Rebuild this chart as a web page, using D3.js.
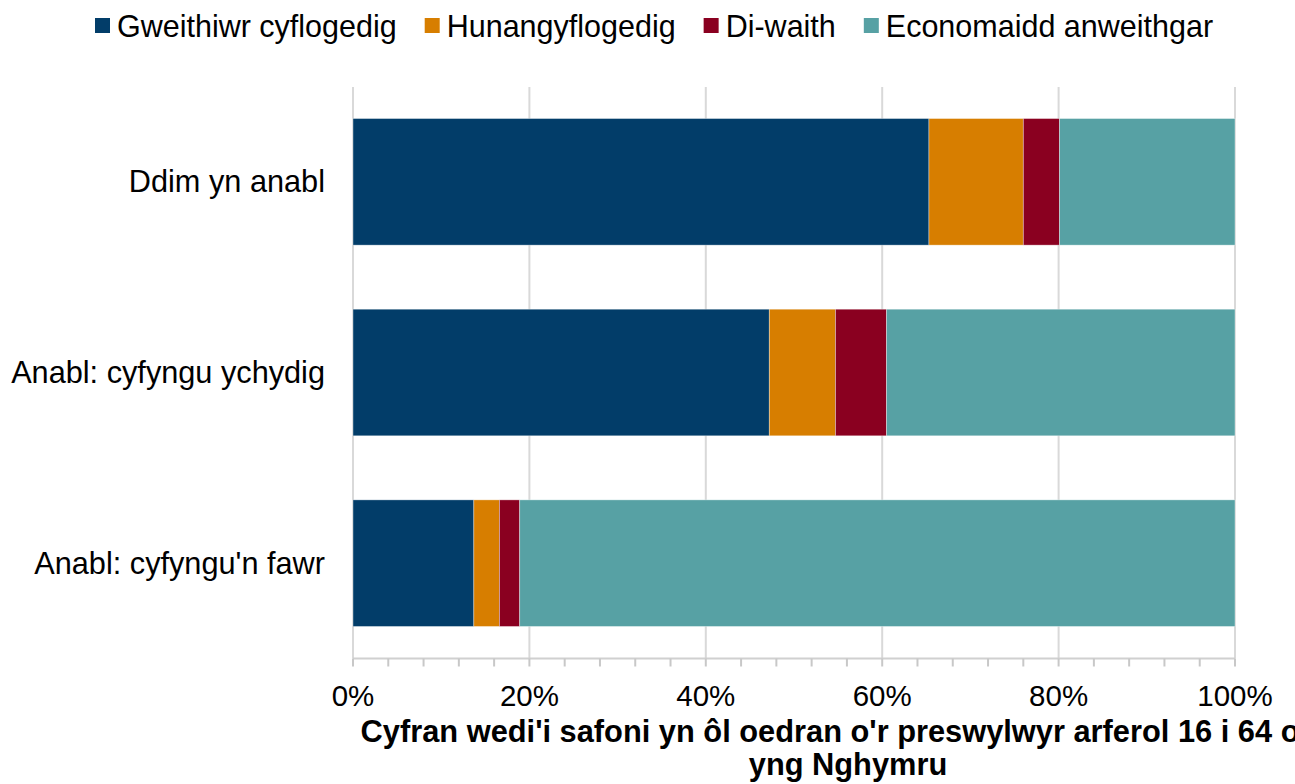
<!DOCTYPE html>
<html><head><meta charset="utf-8">
<script src="https://cdn.jsdelivr.net/npm/d3@7"></script>
<style>
body{margin:0;background:#fff;}
text{font-family:"Liberation Sans",Arial,sans-serif;fill:#000;}
</style></head>
<body>
<svg id="chart" width="1295" height="784"></svg>
<script>
const categories = ["Ddim yn anabl", "Anabl: cyfyngu ychydig", "Anabl: cyfyngu'n fawr"];
const seriesNames = ["Gweithiwr cyflogedig", "Hunangyflogedig", "Di-waith", "Economaidd anweithgar"];
const employee = [65.3, 47.2, 13.7];
const selfEmployed = [10.7, 7.5, 2.9];
const unemployed = [4.1, 5.8, 2.3];
const inactive = [19.9, 39.5, 81.1];
const tickValues = [0, 20, 40, 60, 80, 100];
const tickLabels = ["0%", "20%", "40%", "60%", "80%", "100%"];
const minorTicks = d3.range(0, 101, 4);
const colors = ["#023d69", "#d77e00", "#8a0020", "#57a1a4"];
const titleLines = ["Cyfran wedi'i safoni yn ôl oedran o'r preswylwyr arferol 16 i 64 oed", "yng Nghymru"];

const seriesValues = [employee, selfEmployed, unemployed, inactive];
const rows = categories.map((c, i) => {
  const r = {category: c};
  seriesNames.forEach((s, j) => r[s] = seriesValues[j][i]);
  return r;
});
const stacked = d3.stack().keys(seriesNames)(rows);

const svg = d3.select("#chart");
const x = d3.scaleLinear().domain([0, 100]).range([353, 1235]);
const y = d3.scaleBand().domain(categories).range([86.5, 658.5]).paddingInner(0.336).paddingOuter(0.168);

// gridlines
svg.append("g").selectAll("line").data(tickValues).join("line")
  .attr("x1", d => x(d)).attr("x2", d => x(d))
  .attr("y1", 87).attr("y2", 658.5)
  .attr("stroke", "#d9d9d9").attr("stroke-width", 2);

// bars
svg.append("g").selectAll("g").data(stacked).join("g")
  .attr("fill", (d, i) => colors[i])
  .selectAll("rect").data(d => d).join("rect")
  .attr("x", d => x(d[0]))
  .attr("width", d => x(d[1]) - x(d[0]))
  .attr("y", d => y(d.data.category))
  .attr("height", y.bandwidth())
  .attr("stroke", "rgba(255,255,255,0.45)").attr("stroke-width", 0.8);

// axis line & ticks
const axisG = svg.append("g").attr("transform", "translate(0,658.5)");
axisG.append("line").attr("x1", x(0)).attr("x2", x(100)).attr("y1", 0).attr("y2", 0)
  .attr("stroke", "#d0d0d0").attr("stroke-width", 2);
axisG.selectAll("line.tick").data(minorTicks).join("line").attr("class", "tick")
  .attr("x1", d => x(d)).attr("x2", d => x(d)).attr("y1", 0).attr("y2", 8)
  .attr("stroke", "#c8c8c8").attr("stroke-width", 2);
axisG.selectAll("text").data(tickValues).join("text")
  .attr("x", d => x(d)).attr("y", 47)
  .attr("text-anchor", "middle").style("font-size", "29.5px")
  .text((d, i) => tickLabels[i]);

// category labels
svg.append("g").selectAll("text").data(categories).join("text")
  .attr("x", 325).attr("y", d => y(d) + y.bandwidth() / 2 + 10.5)
  .attr("text-anchor", "end").style("font-size", "30.7px")
  .text(d => d);

// axis title
svg.append("g").selectAll("text").data(titleLines).join("text")
  .attr("x", 848).attr("y", (d, i) => 742 + i * 33)
  .attr("text-anchor", "middle").style("font-size", "30.8px").style("font-weight", "bold")
  .text(d => d);

// legend
const legend = svg.append("g");
let lx = 95;
seriesNames.forEach((s, i) => {
  legend.append("rect").attr("x", lx).attr("y", 18).attr("width", 15).attr("height", 15).attr("fill", colors[i]);
  const t = legend.append("text").attr("x", lx + 22).attr("y", 37).style("font-size", "30.5px").text(s);
  lx += 22 + t.node().getComputedTextLength() + 28;
});
</script>
</body></html>
